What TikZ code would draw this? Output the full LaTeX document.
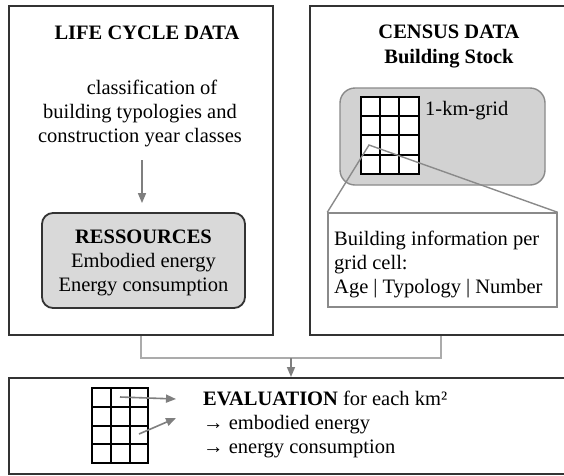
\documentclass[tikz,border=0pt]{standalone}
\usepackage{fontspec}
\setmainfont{Liberation Serif}
\usetikzlibrary{arrows.meta,calc}

\definecolor{framecol}{HTML}{333333}
\definecolor{arrowcol}{HTML}{7F7F7F}
\definecolor{linkcol}{HTML}{ABABAB}
\definecolor{zoomcol}{HTML}{8A8A8A}
\definecolor{resfill}{HTML}{D9D9D9}
\definecolor{gridfill}{HTML}{D2D2D2}

\tikzset{
  txt/.style={inner sep=0pt, font=\fontsize{20.5}{24}\selectfont},
  outerbox/.style={draw=framecol, line width=2pt, rectangle, inner sep=0pt},
  resbox/.style={draw=framecol, line width=1.8pt, fill=resfill, rounded corners=11pt, inner sep=0pt},
  areabox/.style={draw=zoomcol, line width=1.4pt, fill=gridfill, rounded corners=15pt, inner sep=0pt},
  infobox/.style={draw=zoomcol, line width=1.4pt, fill=white, inner sep=0pt},
  grayarrow/.style={draw=arrowcol, line width=1.6pt, -{Triangle[length=10pt,width=8pt]}},
  linkline/.style={draw=linkcol, line width=1.5pt},
  zoomline/.style={draw=zoomcol, line width=1.4pt},
  cellgrid/.style={draw=black, line width=2pt, line cap=rect}
}

% 3 x 4 cell grid with its top-left corner at (#1,#2), cell size #3
\newcommand{\cellgrid}[3]{%
  \fill[white] (#1,#2) rectangle ++(3*#3,4*#3);
  \foreach \i in {0,...,3} \draw[cellgrid] (#1+\i*#3,#2) -- ++(0,4*#3);
  \foreach \j in {0,...,4} \draw[cellgrid] (#1,#2+\j*#3) -- ++(3*#3,0);
}

\begin{document}
\begin{tikzpicture}[x=1pt,y=-1pt]
\clip (0,0) rectangle (564,475);
\fill[white] (0,0) rectangle (564,475);

% main frames
\node[outerbox, minimum width=264pt, minimum height=329pt] (lcbox) at (141,170.5) {};
\node[outerbox, minimum width=262pt, minimum height=329pt] (cdbox) at (441,170.5) {};
\node[outerbox, minimum width=563pt, minimum height=96pt] (evbox) at (290.5,426) {};

% life cycle data
\node[txt, font=\fontsize{20.5}{24}\selectfont\bfseries] (lctitle) at (147,33) {LIFE CYCLE DATA};
\node[txt, align=center] (classif) at (140,113)
  {\hspace*{24pt}classification of\\building typologies and\\construction year classes};
\node[resbox, minimum width=203pt, minimum height=95pt] (res) at (143.5,260.5) {};
\node[txt, align=center] (restext) at (143.5,263)
  {\textbf{RESSOURCES}\\Embodied energy\\Energy consumption};
\coordinate (clsbot) at (142,160);
\draw[grayarrow, shorten >=9pt] (clsbot) -- (clsbot |- res.north);

% census data
\node[txt, align=center, font=\fontsize{20.5}{25}\selectfont\bfseries] (cdtitle) at (449,46)
  {CENSUS DATA\\Building Stock};
\node[areabox, minimum width=205pt, minimum height=97pt] (area) at (442.5,136.5) {};
\cellgrid{361}{97}{19.2}
\node[txt, anchor=west] (kmgrid) at (425,111) {1-km-grid};
\node[infobox, minimum width=229pt, minimum height=94pt] (info) at (442.5,260) {};
\coordinate (cell) at (369,145);
\draw[zoomline] (info.north west) -- (cell) -- (info.north east);
\node[txt, anchor=west, align=left] (infotext) at (334,264)
  {Building information per\\grid cell:\\Age | Typology | Number};

% link to evaluation
\coordinate (junction) at ($(lcbox.south)!0.5!(cdbox.south) + (0,22)$);
\draw[linkline] (lcbox.south) |- (junction) -| (cdbox.south);
\draw[grayarrow, line width=1.5pt] (junction) -- (junction |- evbox.north);

% evaluation
\cellgrid{92}{388}{18.8}
\coordinate (ga) at (120,397);
\coordinate (gb) at (139,434);
\coordinate (ta) at (176,399);
\coordinate (tb) at (176,418);
\draw[grayarrow] (ga) -- (ta);
\draw[grayarrow] (gb) -- (tb);
\node[txt, anchor=west, align=left] (evtext) at (203,424)
  {\textbf{EVALUATION} for each km²\\→ embodied energy\\→ energy consumption};
\end{tikzpicture}
\end{document}
